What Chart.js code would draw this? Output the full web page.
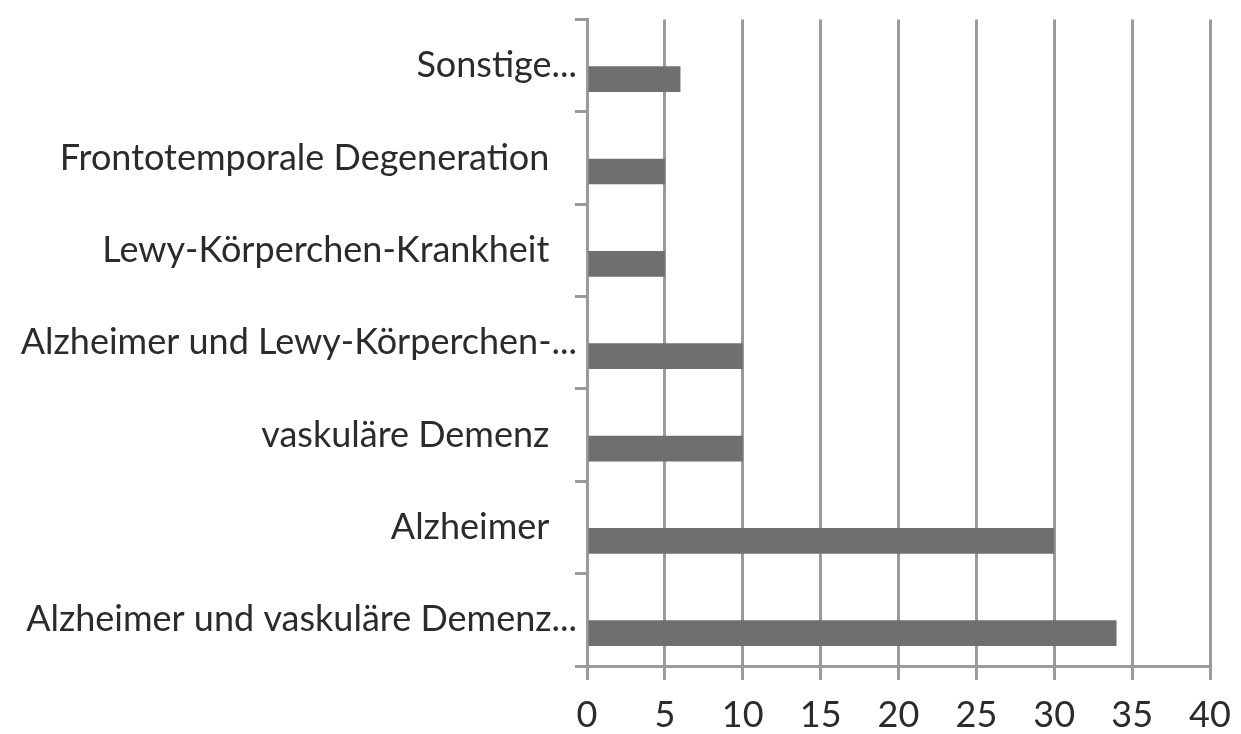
<!DOCTYPE html>
<html>
<head>
<meta charset="utf-8">
<script src="https://cdn.jsdelivr.net/npm/chart.js@4"></script>
<style>
  body { margin: 0; background: #fff; }
</style>
</head>
<body>
<canvas id="myChart" width="1241" height="734"></canvas>
<script>
var categories = [
    'Sonstige...',
    'Frontotemporale Degeneration   ',
    'Lewy-Körperchen-Krankheit   ',
    'Alzheimer und Lewy-Körperchen-...',
    'vaskuläre Demenz   ',
    'Alzheimer   ',
    'Alzheimer und vaskuläre Demenz...'
];
var values = [6, 5, 5, 10, 10, 30, 34];
var xTicks = [0, 5, 10, 15, 20, 25, 30, 35, 40];

window.onload = function () {
    drawChart();
}

function drawChart() {
    var gray = '#9a9a9a';
    var ctx = document.getElementById('myChart').getContext('2d');
    var myChart = new Chart(ctx, {
        type: 'bar',
        data: {
            labels: categories,
            datasets: [{
                // empty slot so the bar sits below the label like in the original
                data: categories.map(function () { return null; }),
                backgroundColor: 'rgba(0,0,0,0)'
            }, {
                data: values,
                backgroundColor: '#6f6f6f'
            }]
        },
        options: {
            indexAxis: 'y',
            responsive: false,
            animation: false,
            layout: { padding: { top: 13, right: 31, left: 0, bottom: 0 } },
            plugins: { legend: { display: false }, tooltip: { enabled: false } },
            datasets: { bar: { categoryPercentage: 0.58, barPercentage: 0.96 } },
            scales: {
                x: {
                    min: 0,
                    max: 40,
                    afterBuildTicks: function (axis) {
                        axis.ticks = xTicks.map(function (v) { return { value: v }; });
                    },
                    afterFit: function (axis) {
                        axis.height = 68;
                        axis.paddingLeft = 0;
                        axis.paddingRight = 0;
                    },
                    grid: { color: gray, lineWidth: 3, tickLength: 14 },
                    border: { color: gray, width: 3 },
                    ticks: {
                        color: '#2b2b2b',
                        padding: 14,
                        maxRotation: 0,
                        font: { family: 'Lato', size: 36 }
                    }
                },
                y: {
                    afterFit: function (axis) { axis.width = 587; },
                    grid: {
                        drawOnChartArea: false,
                        offset: true,
                        color: gray,
                        lineWidth: 3,
                        tickLength: 12
                    },
                    border: { color: gray, width: 3 },
                    ticks: {
                        color: '#2b2b2b',
                        padding: -2,
                        font: { family: 'Lato', size: 36 }
                    }
                }
            }
        }
    });
}
</script>
</body>
</html>
